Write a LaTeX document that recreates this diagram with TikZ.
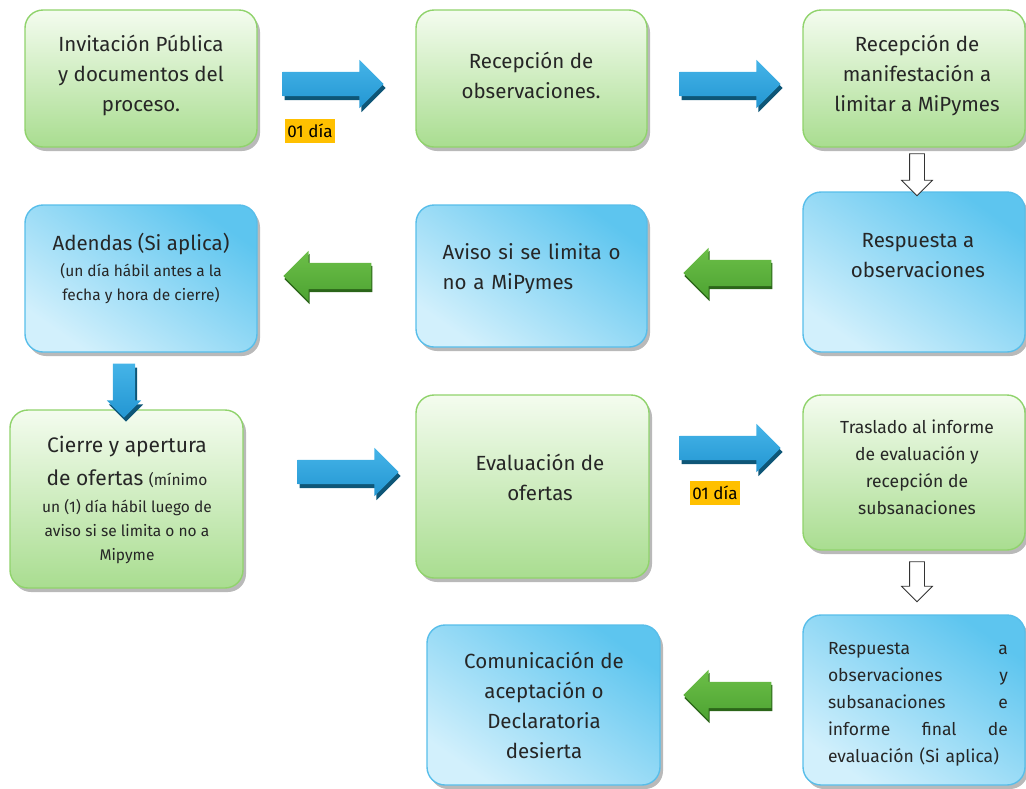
\documentclass[tikz,border=0pt]{standalone}
\usepackage{fontspec}
\setmainfont{Fira Sans}
\usepackage{tikz}
\usetikzlibrary{positioning}
\usetikzlibrary{calc,shadows,shapes.arrows}

\definecolor{boxgreenlt}{HTML}{F4FCEF}
\definecolor{boxgreendk}{HTML}{A9DD90}
\definecolor{boxgreenln}{HTML}{90D36C}
\definecolor{boxbluelt}{HTML}{D2F0FC}
\definecolor{boxbluedk}{HTML}{5DC5EF}
\definecolor{boxblueln}{HTML}{58BEEA}
\definecolor{arrblue}{HTML}{2396D2}
\definecolor{arrbluelt}{HTML}{45B4E8}
\definecolor{arrbluedk}{HTML}{0E5677}
\definecolor{arrgreen}{HTML}{4DA332}
\definecolor{arrgreenlt}{HTML}{6CBF48}
\definecolor{arrgreendk}{HTML}{2B6519}
\definecolor{tagorange}{HTML}{FFC000}

\newcommand{\txtbig}{\fontsize{20.5}{30}\selectfont}
\newcommand{\txtmid}{\fontsize{17.5}{27}\selectfont}
\newcommand{\txtsmall}{\fontsize{15.5}{24}\selectfont}

\tikzset{
	stagebox/.style={line width=1.4pt, rounded corners=18pt,
		drop shadow={shadow xshift=3pt, shadow yshift=-4pt, fill=black!50, opacity=0.55}},
	greenbox/.style={stagebox, draw=boxgreenln, top color=boxgreenlt, bottom color=boxgreendk},
	bluebox/.style={stagebox, draw=boxblueln, top color=boxbluedk, bottom color=boxbluelt, shading angle=-35},
	stagetxt/.style={align=flush center, text width=#1, font=\txtbig, inner sep=0pt, text=black!85},
	stagetxt/.default=218,
	blockarrow/.style={single arrow, minimum height=#1, single arrow head extend=12pt},
	bluearrow/.style={blockarrow=#1, inner sep=12pt, top color=arrbluelt, bottom color=arrblue,
		drop shadow={shadow xshift=2pt, shadow yshift=-4pt, fill=arrbluedk, opacity=1}},
	greenarrow/.style={blockarrow=#1, inner sep=13pt, shape border rotate=180, top color=arrgreenlt, bottom color=arrgreen,
		drop shadow={shadow xshift=1pt, shadow yshift=-3pt, fill=arrgreendk, opacity=1}},
	hollowarrow/.style={blockarrow=#1, inner sep=7pt, single arrow head extend=8pt, shape border rotate=270,
		draw=black!80, line width=0.8pt, fill=white},
	daytag/.style={fill=tagorange, inner xsep=2pt, inner ysep=5pt, font=\fontsize{17}{18}\selectfont}
}

\begin{document}
\begin{tikzpicture}[x=1pt, y=-1pt]
	
	% ------------------------------------------------
	% Page frame
	\useasboundingbox (0,0) rectangle (1026,788);
	
	% ------------------------------------------------
	% Stage boxes
	\node[greenbox, minimum width=232, minimum height=137] (Invit) at (141,78.5) {};
	\node[greenbox, minimum width=231, minimum height=137] (RecObs) at (531.5,78.5) {};
	\node[greenbox, minimum width=222, minimum height=137] (RecMan) at (914,78.5) {};
	
	\node[bluebox, minimum width=232, minimum height=147] (Adendas) at (141,278.5) {};
	\node[bluebox, minimum width=231, minimum height=142] (Aviso) at (531.5,276) {};
	\node[bluebox, minimum width=222, minimum height=160] (RespObs) at (914,272) {};
	
	\node[greenbox, minimum width=233, minimum height=178] (Cierre) at (126.5,499) {};
	\node[greenbox, minimum width=233, minimum height=183] (Evalua) at (532.5,486.5) {};
	\node[greenbox, minimum width=222, minimum height=155] (Traslado) at (914,472.5) {};
	
	\node[bluebox, minimum width=233, minimum height=160] (Comunica) at (543.5,705) {};
	\node[bluebox, minimum width=222, minimum height=170] (RespFin) at (914,700) {};
	
	% ----------------
	% Box texts
	\node[stagetxt] (InvitTxt) at (141,75) {Invitación Pública\\ y documentos del\\ proceso.};
	\node[stagetxt] (RecObsTxt) at (531,75) {Recepción de\\ observaciones.};
	\node[stagetxt] (RecManTxt) at (917,75) {Recepción de\\ manifestación a\\ limitar a MiPymes};
	
	\node[stagetxt] (AdendasTxt) at (141,268) {Adendas (Si aplica)\par
		\txtsmall\vspace{2pt}(un día hábil antes a la\\ fecha y hora de cierre)\par};
	\node[stagetxt=185, align=left] (AvisoTxt) at (535,269) {Aviso si se limita o\\ no a MiPymes};
	\node[stagetxt] (RespObsTxt) at (918,256) {Respuesta a\\ observaciones};
	
	\node[stagetxt=228] (CierreTxt) at (127,500) {\fontsize{21}{33}\selectfont Cierre y apertura\\
		de ofertas {\txtsmall (mínimo}\par
		\txtsmall\vspace{3pt}un (1) día hábil luego de\\ aviso si se limita o no a\\ Mipyme\par};
	\node[stagetxt] (EvaluaTxt) at (540,477) {Evaluación de\\ ofertas};
	\node[stagetxt, font=\txtmid] (TrasladoTxt) at (917,467) {Traslado al informe\\ de evaluación y\\ recepción de\\ subsanaciones};
	
	\node[stagetxt] (ComunicaTxt) at (544,705) {Comunicación de\\ aceptación o\\ Declaratoria\\ desierta};
	\node[stagetxt=180, align=left, font=\txtmid] (RespFinTxt) at (918,704) {Respuesta \hfill a\\
		observaciones \hfill y\\ subsanaciones \hfill e\\ informe \hfill final \hfill de\\ evaluación (Si aplica)};
	
	% ------------------------------------------------
	% Block arrows between stages
	\node[bluearrow=101] (ArrInvRec) at (327,84) {};
	\node[bluearrow=101] (ArrRecMan) at (724,84) {};
	\node[hollowarrow=42] (ArrManResp) at (917,171) {};
	
	\node[greenarrow=88] (ArrRespAviso) at (734,273) {};
	\node[greenarrow=88] (ArrAvisoAden) at (334,276) {};
	\node[bluearrow=54, inner sep=11pt, single arrow head extend=6pt, shape border rotate=270] (ArrAdenCierre) at (124,385) {};
	
	\node[bluearrow=101] (ArrCierreEval) at (342,472) {};
	\node[bluearrow=101] (ArrEvalTras) at (724,448) {};
	\node[hollowarrow=40] (ArrTrasResp) at (917,578) {};
	
	\node[greenarrow=88] (ArrRespCom) at (734,695) {};
	
	% ----------------
	% Day tags
	\node[daytag] (DayOne) at (310,131) {01 día};
	\node[daytag] (DayTwo) at (715,493) {01 día};
	
\end{tikzpicture}
\end{document}
